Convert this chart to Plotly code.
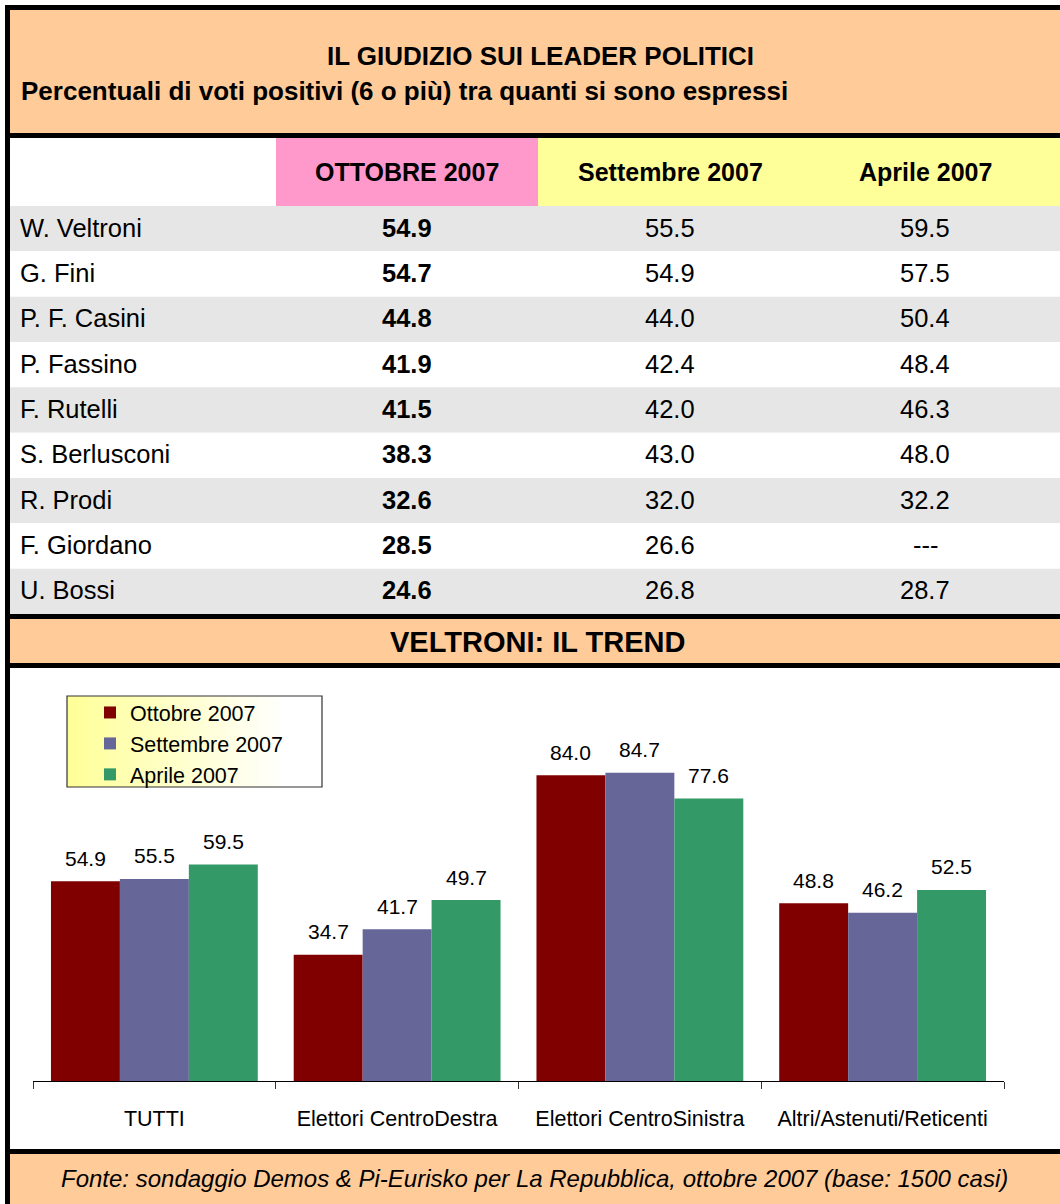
import plotly.graph_objects as go

W, H = 1060, 1204

# ---------------- data ----------------
leaders = ["W. Veltroni", "G. Fini", "P. F. Casini", "P. Fassino", "F. Rutelli",
           "S. Berlusconi", "R. Prodi", "F. Giordano", "U. Bossi"]
ottobre_2007 = ["54.9", "54.7", "44.8", "41.9", "41.5", "38.3", "32.6", "28.5", "24.6"]
settembre_2007 = ["55.5", "54.9", "44.0", "42.4", "42.0", "43.0", "32.0", "26.6", "26.8"]
aprile_2007 = ["59.5", "57.5", "50.4", "48.4", "46.3", "48.0", "32.2", "---", "28.7"]
table_columns = ["OTTOBRE 2007", "Settembre 2007", "Aprile 2007"]

groups = ["TUTTI", "Elettori CentroDestra", "Elettori CentroSinistra", "Altri/Astenuti/Reticenti"]
series_names = ["Ottobre 2007", "Settembre 2007", "Aprile 2007"]
trend_ottobre = [54.9, 34.7, 84.0, 48.8]
trend_settembre = [55.5, 41.7, 84.7, 46.2]
trend_aprile = [59.5, 49.7, 77.6, 52.5]

title = "IL GIUDIZIO SUI LEADER POLITICI"
subtitle = "Percentuali di voti positivi (6 o più) tra quanti si sono espressi"
trend_title = "VELTRONI: IL TREND"
source = "Fonte: sondaggio Demos & Pi-Eurisko per La Repubblica, ottobre 2007 (base: 1500 casi)"

# ---------------- styles ----------------
FONT = "Liberation Sans, Arial, sans-serif"
PEACH = "#FFCC99"
PINK = "#FF99CC"
YELLOW = "#FFFF99"
GREY = "#E6E6E6"
BAR_COLORS = ["#800000", "#666699", "#339966"]


def X(px):
    return px / W


def Y(py):
    return 1 - py / H


shapes = []
annotations = []


def rect(x0, y0, x1, y1, color, line=None):
    shapes.append(dict(type="rect", xref="paper", yref="paper",
                       x0=X(x0), x1=X(x1), y0=Y(y1), y1=Y(y0),
                       fillcolor=color, line=line or dict(width=0), layer="below"))


def text(t, x, y, size, bold=False, italic=False, xanchor="center"):
    annotations.append(dict(text=("<b>%s</b>" % t) if bold else t,
                            xref="paper", yref="paper", x=X(x), y=Y(y),
                            xanchor=xanchor, yanchor="middle", showarrow=False,
                            font=dict(family=FONT, size=size, color="#000000",
                                      style="italic" if italic else "normal")))


# header
rect(10, 10, W, 133, PEACH)
text(title, 540, 56, 26, bold=True)
text(subtitle, 19, 91, 26, bold=True, xanchor="left")

# column header row
rect(10, 138, 276, 206, "#FFFFFF")
rect(276, 138, 538, 206, PINK)
rect(538, 138, W, 206, YELLOW)
col_x = [407, 670, 925]
for cx, name in zip(col_x, table_columns):
    text(name, cx, 172, 25, bold=True)

# table rows
row_top, row_bot = 206, 614
rh = (row_bot - row_top) / len(leaders)
for i, name in enumerate(leaders):
    y0 = row_top + i * rh
    rect(10, y0, W, y0 + rh, GREY if i % 2 == 0 else "#FFFFFF")
    cy = y0 + rh / 2 - 1
    text(name, 18, cy, 25.5, xanchor="left")
    text(ottobre_2007[i], col_x[0], cy, 25.5, bold=True)
    text(settembre_2007[i], col_x[1], cy, 25.5)
    text(aprile_2007[i], col_x[2], cy, 25.5)

# trend title band
rect(10, 619, W, 663, PEACH)
text(trend_title, 537, 642, 29, bold=True)

# chart area
rect(10, 668, W, 1149, "#FFFFFF")

# legend box background: soft yellow-to-white gradient
lg_x0, lg_x1, lg_y0, lg_y1 = 67, 322, 696, 787
n_strips = 24
for s in range(n_strips):
    t = s / (n_strips - 1)
    b = int(round(0x99 + (0xFF - 0x99) * min(1.0, t * 1.15)))
    sx0 = lg_x0 + (lg_x1 - lg_x0) * s / n_strips
    sx1 = lg_x0 + (lg_x1 - lg_x0) * (s + 1) / n_strips
    rect(sx0, lg_y0, sx1 + 0.5, lg_y1, "#FFFF%02X" % b)
rect(lg_x0, lg_y0, lg_x1, lg_y1, "rgba(0,0,0,0)", line=dict(color="#333333", width=1.2))

# footer
rect(10, 1154, W, H, PEACH)
text(source, 534, 1178, 24, italic=True)

# black separators / border
for (y0, y1) in [(5, 10), (133, 138), (614, 619), (663, 668), (1149, 1154)]:
    rect(5, y0, W, y1, "#000000")
rect(5, 5, 10, H, "#000000")

# ---------------- bar chart ----------------
plot_x0, plot_x1 = 33, 1004
plot_y0, plot_y1 = 717, 1081
bargap = 0.148

fig = go.Figure()
series = [trend_ottobre, trend_settembre, trend_aprile]
for name, vals, col in zip(series_names, series, BAR_COLORS):
    fig.add_trace(go.Bar(name=name, x=groups, y=vals,
                         marker=dict(color=col, line=dict(width=0))))

cat_w = (plot_x1 - plot_x0) / len(groups)
bar_w = cat_w * (1 - bargap) / len(series)
for k, vals in enumerate(series):
    for g, v in zip(groups, vals):
        annotations.append(dict(text="%.1f" % v, x=g, y=v, xref="x", yref="y",
                                xshift=(k - 1) * bar_w, yshift=23,
                                yanchor="middle", showarrow=False,
                                font=dict(family=FONT, size=21, color="#000000")))

fig.update_layout(
    width=W, height=H,
    margin=dict(l=0, r=0, t=0, b=0),
    paper_bgcolor="#FFFFFF", plot_bgcolor="rgba(0,0,0,0)",
    barmode="group", bargap=bargap, bargroupgap=0,
    shapes=shapes, annotations=annotations,
    showlegend=True,
    legend=dict(x=X(90), y=Y(692), xanchor="left", yanchor="top",
                bgcolor="rgba(0,0,0,0)", borderwidth=0,
                font=dict(family=FONT, size=21.5, color="#000000"),
                itemwidth=30, tracegroupgap=0),
    xaxis=dict(domain=[X(plot_x0), X(plot_x1)], type="category",
               showline=True, linecolor="#000000", linewidth=1,
               ticks="outside", tickson="boundaries", ticklen=7, tickcolor="#333333",
               tickfont=dict(family=FONT, size=21.5, color="#000000"),
               ticklabelstandoff=18, showgrid=False, zeroline=False, fixedrange=True),
    yaxis=dict(domain=[Y(plot_y1), Y(plot_y0)], range=[0, 100], visible=False,
               showgrid=False, zeroline=False, fixedrange=True),
    font=dict(family=FONT),
)

fig.write_html("out.html", config={"displayModeBar": False},
               post_script="document.body.style.margin='0';")
